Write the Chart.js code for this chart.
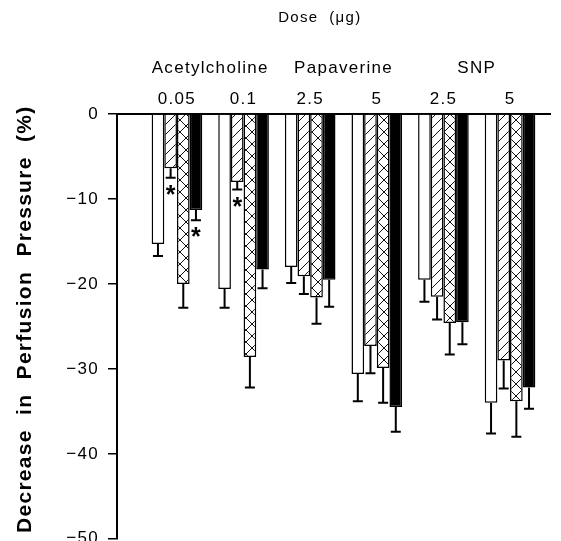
<!DOCTYPE html>
<html><head><meta charset="utf-8">
<script src="https://cdn.jsdelivr.net/npm/chart.js@4/dist/chart.umd.min.js"></script>
<style>html,body{margin:0;padding:0;background:#fff;overflow:hidden}#wrap{width:561px;height:541px;position:relative;overflow:hidden}</style>
</head><body><div id="wrap"><canvas id="c" width="561" height="558"></canvas></div>
<script>
// ---- data ----
const doseLabels = ['0.05', '0.1', '2.5', '5', '2.5', '5'];
const drugLabels = ['Acetylcholine', 'Papaverine', 'SNP'];
const yTickValues = [0, -10, -20, -30, -40, -50];
const seriesNames = ['Series 1 (open)', 'Series 2 (hatched)', 'Series 3 (cross-hatched)', 'Series 4 (filled)'];

const series1 = [-15.3, -20.6, -18.0, -30.6, -19.5, -34.0];
const series2 = [-6.4, -8.0, -19.1, -27.3, -21.5, -29.0];
const series3 = [-20.0, -28.6, -21.6, -29.9, -24.6, -33.8];
const series4 = [-11.3, -18.3, -19.5, -34.5, -24.5, -32.2];

const sem1 = [1.4, 2.2, 1.9, 3.2, 2.6, 3.6];
const sem2 = [1.1, 0.9, 2.1, 3.2, 2.7, 3.3];
const sem3 = [2.8, 3.6, 3.1, 4.1, 3.7, 4.2];
const sem4 = [1.2, 2.2, 3.2, 2.9, 2.6, 2.5];

const sig1 = [false, false, false, false, false, false];
const sig2 = [true, true, false, false, false, false];
const sig3 = [false, false, false, false, false, false];
const sig4 = [true, false, false, false, false, false];

// ---- rendering ----
const FONT = '"Liberation Sans", Arial, Helvetica, sans-serif';
const SPACING = '1.3px';
Chart.defaults.font.family = FONT;
Chart.defaults.color = '#000';

const canvas = document.getElementById('c');
const mainCtx = canvas.getContext('2d');

function makePattern(type) {
  const s = type === 'diag' ? 10 : 12;
  const c = document.createElement('canvas');
  c.width = s; c.height = s;
  const g = c.getContext('2d');
  g.fillStyle = '#fff'; g.fillRect(0, 0, s, s);
  g.strokeStyle = '#111'; g.lineWidth = 1;
  g.beginPath();
  g.moveTo(-1, s + 1); g.lineTo(s + 1, -1);
  if (type === 'cross') { g.moveTo(-1, -1); g.lineTo(s + 1, s + 1); }
  g.stroke();
  return mainCtx.createPattern(c, 'repeat');
}

const seriesValues = [series1, series2, series3, series4];
const seriesSem = [sem1, sem2, sem3, sem4];
const seriesSig = [sig1, sig2, sig3, sig4];
const fills = ['#ffffff', makePattern('diag'), makePattern('cross'), '#000000'];

const datasets = seriesValues.map((vals, k) => ({
  label: seriesNames[k],
  data: vals.map((v, i) => ({ x: i + 1, y: v })),
  backgroundColor: fills[k],
  borderColor: '#000',
  borderWidth: 1.5,
  borderSkipped: 'start',
  errors: seriesSem[k],
  sig: seriesSig[k]
}));

const spacingPlugin = {
  id: 'spacing',
  beforeUpdate(chart) { chart.ctx.letterSpacing = SPACING; },
  beforeDraw(chart) { chart.ctx.letterSpacing = SPACING; }
};

const errorBars = {
  id: 'errorBars',
  afterDatasetsDraw(chart) {
    const ctx = chart.ctx, ys = chart.scales.y;
    ctx.save();
    ctx.strokeStyle = '#000'; ctx.fillStyle = '#000'; ctx.lineWidth = 2;
    chart.data.datasets.forEach((ds, k) => {
      const meta = chart.getDatasetMeta(k);
      meta.data.forEach((bar, i) => {
        const v = ds.data[i].y, e = ds.errors[i];
        const y0 = bar.y, y1 = ys.getPixelForValue(v - e);
        const x = bar.x, hw = 5;
        ctx.beginPath();
        ctx.moveTo(x, y0); ctx.lineTo(x, y1);
        ctx.moveTo(x - hw, y1); ctx.lineTo(x + hw, y1);
        ctx.stroke();
        if (ds.sig[i]) {
          ctx.font = 'bold 25px ' + FONT;
          ctx.letterSpacing = '0px';
          ctx.textAlign = 'center';
          ctx.textBaseline = 'alphabetic';
          ctx.fillText('*', x, y1 + 12 + 13);
        }
      });
    });
    ctx.restore();
  }
};

new Chart(canvas, {
  type: 'bar',
  data: { datasets },
  plugins: [spacingPlugin, errorBars],
  options: {
    responsive: false,
    devicePixelRatio: 1,
    animation: false,
    events: [],
    layout: { autoPadding: false, padding: { top: 0, right: 11, bottom: 0, left: 0 } },
    plugins: { legend: { display: false }, tooltip: { enabled: false } },
    datasets: { bar: { categoryPercentage: 0.76, barPercentage: 1 } },
    scales: {
      x: {
        type: 'linear', position: 'top', min: 0.1, max: 6.6, weight: 0, offset: false,
        afterBuildTicks: s => { s.ticks = doseLabels.map((_, i) => ({ value: i + 1 })); },
        afterFit: s => { s.height = 22; },
        ticks: { autoSkip: false, maxRotation: 0, padding: 4.8, font: { size: 17 }, color: '#000',
                 callback: (v, i) => doseLabels[i] },
        grid: { display: false, drawTicks: false, offset: false },
        border: { display: true, color: '#000', width: 2 }
      },
      x2: {
        type: 'linear', position: 'top', min: 0.1, max: 6.6, weight: 1, offset: false,
        afterBuildTicks: s => { s.ticks = drugLabels.map((_, i) => ({ value: 2 * i + 1.5 })); },
        afterFit: s => { s.height = 92; },
        ticks: { autoSkip: false, maxRotation: 0, padding: 13.8, font: { size: 17 }, color: '#000',
                 callback: (v, i) => drugLabels[i] },
        grid: { display: false, drawTicks: false },
        border: { display: false },
        title: { display: true, text: 'Dose  (\u03bcg)     ', font: { size: 15 }, color: '#000', padding: { top: 9, bottom: 0 } }
      },
      y: {
        min: -50, max: 0,
        afterBuildTicks: s => { s.ticks = yTickValues.map(v => ({ value: v })); },
        afterFit: s => { s.width = 117; },
        ticks: { font: { size: 17 }, padding: 9, color: '#000',
                 callback: v => v === 0 ? '0' : '\u2212' + Math.abs(v) },
        grid: { drawOnChartArea: false, drawTicks: true, tickLength: 9, color: '#000', lineWidth: 1.5 },
        border: { display: true, color: '#000', width: 2 },
        title: { display: true, text: '  Decrease  in  Perfusion  Pressure  (%)',
                 font: { size: 21, weight: 'bold' }, color: '#000', padding: { top: 13, bottom: 0 } }
      }
    }
  }
});
</script>
</body></html>
